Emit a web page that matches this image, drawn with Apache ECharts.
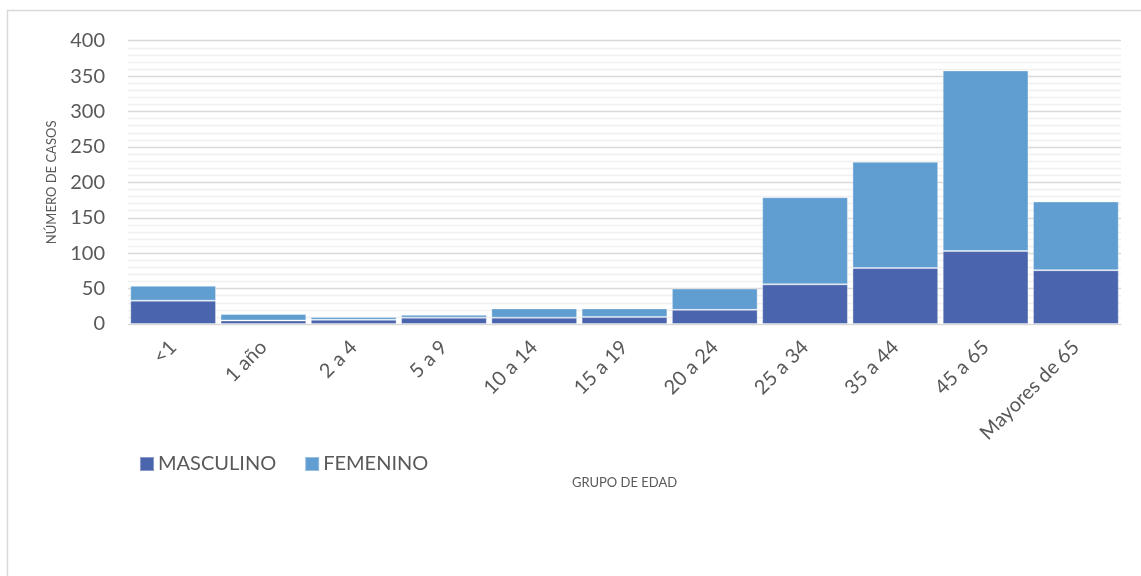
<!DOCTYPE html>
<html>
<head>
<meta charset="utf-8">
<script src="https://cdn.jsdelivr.net/npm/echarts@6/dist/echarts.min.js"></script>
<style>
html,body{margin:0;padding:0;background:#fff;}
#chart{width:1141px;height:576px;}
</style>
</head>
<body>
<div id="chart"></div>
<script>
var categories = ['<1', '1 año', '2 a 4', '5 a 9', '10 a 14', '15 a 19', '20 a 24', '25 a 34', '35 a 44', '45 a 65', 'Mayores de 65'];
var totals = [54, 14, 10, 13, 22, 22, 50, 179, 229, 358, 173];
var masculino = [33, 5, 6, 9, 9, 10, 20, 56, 79, 103, 76];
var femenino = totals.map(function (t, i) { return t - masculino[i]; });
var yTicks = [0, 50, 100, 150, 200, 250, 300, 350, 400];

var font = 'Lato, "Open Sans", sans-serif';
var chart = echarts.init(document.getElementById('chart'), null, { renderer: 'canvas' });
chart.setOption({
  backgroundColor: '#ffffff',
  animation: false,
  graphic: [{
    type: 'rect',
    shape: { x: 7.5, y: 10.5, width: 1300, height: 800 },
    style: { fill: 'none', stroke: '#d9d9d9', lineWidth: 1.5 },
    silent: true
  }],
  grid: { left: 128, right: 20, top: 40.7, bottom: 252, containLabel: false },
  legend: {
    left: 134, top: 449,
    itemWidth: 14, itemHeight: 14, itemGap: 28,
    icon: 'rect',
    textStyle: { fontFamily: font, fontSize: 20, color: '#595959', padding: [0, 0, 0, -1] },
    data: ['MASCULINO', 'FEMENINO']
  },
  xAxis: {
    type: 'category',
    data: categories,
    name: 'GRUPO DE EDAD',
    nameLocation: 'middle',
    nameGap: 152,
    nameTextStyle: { fontFamily: font, fontSize: 13, color: '#595959' },
    axisLine: { lineStyle: { color: '#d9d9d9', width: 1 } },
    axisTick: { show: false },
    axisLabel: { rotate: 45, margin: 20, fontFamily: font, fontSize: 20, color: '#595959', interval: 0 }
  },
  yAxis: {
    type: 'value',
    min: yTicks[0], max: yTicks[yTicks.length - 1], interval: 50,
    name: 'NÚMERO DE CASOS',
    nameLocation: 'middle',
    nameGap: 70,
    nameRotate: 90,
    nameTextStyle: { fontFamily: font, fontSize: 13, color: '#595959' },
    axisLine: { show: false },
    axisTick: { show: false },
    axisLabel: { margin: 23, fontFamily: font, fontSize: 20, color: '#595959' },
    splitLine: { lineStyle: { color: '#d9d9d9', width: 1.3 } },
    minorTick: { show: false, splitNumber: 5 },
    minorSplitLine: { show: true, lineStyle: { color: '#f0f0f0', width: 1.3 } }
  },
  series: [{
    name: 'MASCULINO', type: 'bar', stack: 'total', data: masculino,
    barCategoryGap: '5%',
    itemStyle: { color: '#4a65ad', borderColor: 'rgba(255,255,255,0.35)', borderWidth: 1 }
  }, {
    name: 'FEMENINO', type: 'bar', stack: 'total', data: femenino,
    barCategoryGap: '5%',
    itemStyle: { color: '#609dd1', borderColor: 'rgba(255,255,255,0.35)', borderWidth: 1 }
  }]
});
</script>
</body>
</html>
